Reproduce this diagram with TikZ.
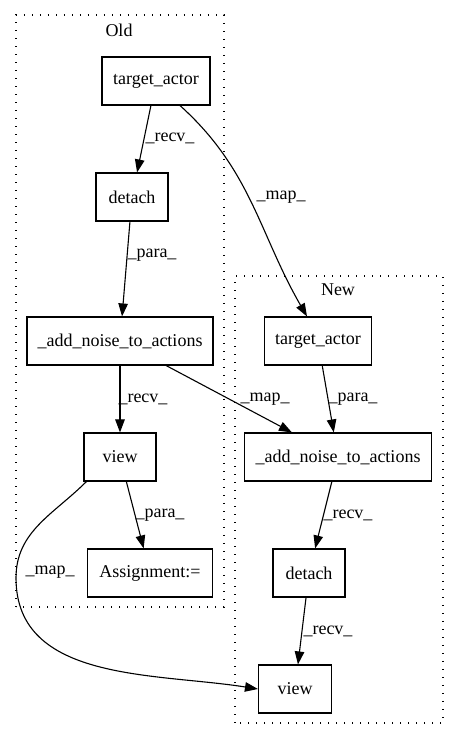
\documentclass[tikz,border=0pt]{standalone}
\usepackage{fontspec}
\setmainfont{Liberation Serif}
\usetikzlibrary{arrows.meta}

\begin{document}
\begin{tikzpicture}[x=1pt,y=1pt,
		op/.style={draw, line width=1.1pt, rectangle, minimum height=48pt, inner sep=0pt, font=\fontsize{18}{21}\selectfont},
		elbl/.style={inner sep=1pt, font=\fontsize{18}{21}\selectfont},
		cluster/.style={line width=1.4pt, dash pattern=on 1.4pt off 6.6pt},
		flow/.style={line width=1.1pt, -{Triangle[length=13pt,width=9.5pt]}}]
		\useasboundingbox (0,0) rectangle (459,740);
		%Clusters
		\draw [cluster] (16,133) rectangle (224,725);
		\draw [cluster] (235,17) rectangle (443,464);
		\node [elbl] (oldTitle) at (119,710) {Old};
		\node [elbl] (newTitle) at (338,450) {New};
		%Old nodes
		\node [op, minimum width=108pt] (oldActor) at (156,659) {target\_actor};
		\node [op, minimum width=72pt] (oldDetach) at (132,543) {detach};
		\node [op, minimum width=186pt] (oldNoise) at (120,399) {\_add\_noise\_to\_actions};
		\node [op, minimum width=72pt] (oldView) at (120,283) {view};
		\node [op, minimum width=125pt] (oldAssign) at (150,167) {Assignment:=};
		%New nodes
		\node [op, minimum width=107pt] (newActor) at (318,399) {target\_actor};
		\node [op, minimum width=187pt] (newNoise) at (338,283) {\_add\_noise\_to\_actions};
		\node [op, minimum width=72pt] (newDetach) at (309,167) {detach};
		\node [op, minimum width=73pt] (newView) at (295,51) {view};
		%Edges
		\draw [flow] (oldActor) -- (oldDetach);
		\draw [flow] ([xshift=24pt]oldActor.south) to[out=-42,in=120] ([xshift=-11pt]newActor.north);
		\draw [flow] (oldDetach) -- (oldNoise);
		\draw [flow] (oldNoise) -- (oldView);
		\draw [flow] (oldNoise) -- (newNoise);
		\draw [flow] (newActor) -- (newNoise);
		\draw [flow] (oldView) -- (oldAssign);
		\draw [flow] ([xshift=3pt]oldView.south west) to[out=-135,in=90] (16,162) to[out=-90,in=171] (newView.west);
		\draw [flow] (newNoise) -- (newDetach);
		\draw [flow] (newDetach) -- (newView);
		%Labels
		\node [elbl] (lblRecvA) at (170,602) {\_recv\_};
		\node [elbl] (lblMapA) at (281,543) {\_map\_};
		\node [elbl] (lblParaA) at (152,485) {\_para\_};
		\node [elbl] (lblRecvB) at (143,341) {\_recv\_};
		\node [elbl] (lblMapB) at (265,341) {\_map\_};
		\node [elbl] (lblParaB) at (353,341) {\_para\_};
		\node [elbl] (lblParaC) at (160,225) {\_para\_};
		\node [elbl] (lblMapC) at (50,168) {\_map\_};
		\node [elbl] (lblRecvC) at (348,225) {\_recv\_};
		\node [elbl] (lblRecvD) at (328,109) {\_recv\_};
	\end{tikzpicture}
\end{document}
